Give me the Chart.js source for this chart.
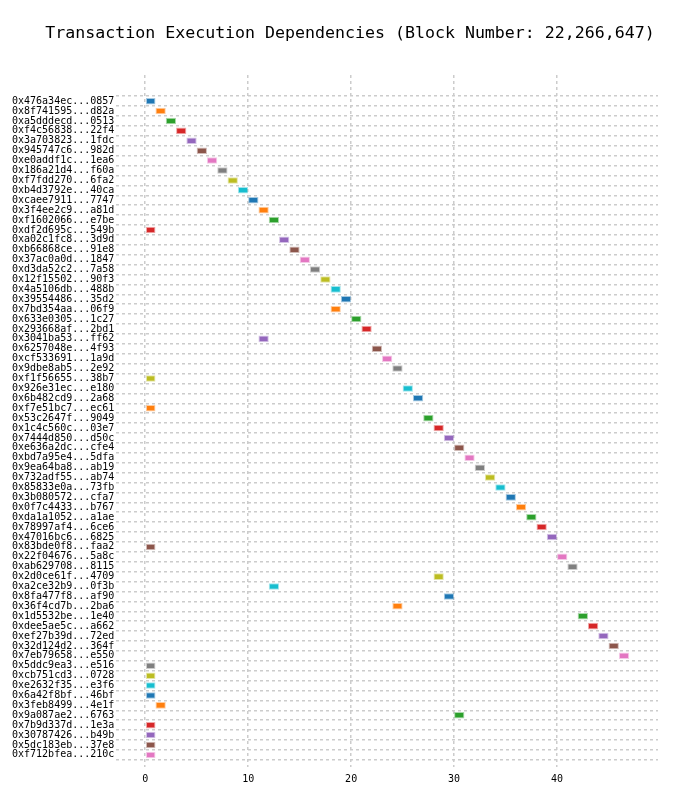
<!DOCTYPE html>
<html>
<head>
<meta charset="utf-8">
<script src="https://cdn.jsdelivr.net/npm/chart.js@4/dist/chart.umd.min.js"></script>
<style>
  html, body { margin: 0; padding: 0; background: #fff; }
  #wrap { width: 700px; height: 804px; position: relative; }
</style>
</head>
<body>
<div id="wrap"><canvas id="c" width="700" height="804"></canvas></div>
<script>
const chartTitle = 'Transaction Execution Dependencies (Block Number: 22,266,647)';
const txLabels = [
  "0x476a34ec...0857","0x8f741595...d82a","0xa5dddecd...0513","0xf4c56838...22f4","0x3a703823...1fdc",
  "0x945747c6...982d","0xe0addf1c...1ea6","0x186a21d4...f60a","0xf7fdd270...6fa2","0xb4d3792e...40ca",
  "0xcaee7911...7747","0x3f4ee2c9...a81d","0xf1602066...e7be","0xdf2d695c...549b","0xa02c1fc8...3d9d",
  "0xb66868ce...91e8","0x37ac0a0d...1847","0xd3da52c2...7a58","0x12f15502...90f3","0x4a5106db...488b",
  "0x39554486...35d2","0x7bd354aa...06f9","0x633e0305...1c27","0x293668af...2bd1","0x3041ba53...ff62",
  "0x6257048e...4f93","0xcf533691...1a9d","0x9dbe8ab5...2e92","0xf1f56655...38b7","0x926e31ec...e180",
  "0x6b482cd9...2a68","0xf7e51bc7...ec61","0x53c2647f...9049","0x1c4c560c...03e7","0x7444d850...d50c",
  "0xe636a2dc...cfe4","0xbd7a95e4...5dfa","0x9ea64ba8...ab19","0x732adf55...ab74","0x85833e0a...73fb",
  "0x3b080572...cfa7","0x0f7c4433...b767","0xda1a1052...a1ae","0x78997af4...6ce6","0x47016bc6...6825",
  "0x83bde0f8...faa2","0x22f04676...5a8c","0xab629708...8115","0x2d0ce61f...4709","0xa2ce32b9...0f3b",
  "0x8fa477f8...af90","0x36f4cd7b...2ba6","0x1d5532be...1e40","0xdee5ae5c...a662","0xef27b39d...72ed",
  "0x32d124d2...364f","0x7eb79658...e550","0x5ddc9ea3...e516","0xcb751cd3...0728","0xe2632f35...e3f6",
  "0x6a42f8bf...46bf","0x3feb8499...4e1f","0x9a087ae2...6763","0x7b9d337d...1e3a","0x30787426...b49b",
  "0x5dc183eb...37e8","0xf712bfea...210c"
];
const startSlots = [
  0,1,2,3,4,5,6,7,8,9,
  10,11,12,0,13,14,15,16,17,18,
  19,18,20,21,11,22,23,24,0,25,
  26,0,27,28,29,30,31,32,33,34,
  35,36,37,38,39,0,40,41,28,12,
  29,24,42,43,44,45,46,0,0,0,
  0,1,30,0,0,0,0
];
const durations = [
  1,1,1,1,1,1,1,1,1,1,
  1,1,1,1,1,1,1,1,1,1,
  1,1,1,1,1,1,1,1,1,1,
  1,1,1,1,1,1,1,1,1,1,
  1,1,1,1,1,1,1,1,1,1,
  1,1,1,1,1,1,1,1,1,1,
  1,1,1,1,1,1,1
];
const xTicks = [0, 10, 20, 30, 40];
const palette = ["#1f77b4","#ff7f0e","#2ca02c","#d62728","#9467bd","#8c564b","#e377c2","#7f7f7f","#bcbd22","#17becf"];

const barData = txLabels.map((_, i) => ({ x: [startSlots[i], startSlots[i] + durations[i]], y: i }));
const barColors = txLabels.map((_, i) => palette[i % palette.length]);

const MONO = "'DejaVu Sans Mono', monospace";

const pageTitle = {
  id: 'pageTitle',
  afterDraw(chart) {
    const ctx = chart.ctx;
    ctx.save();
    ctx.fillStyle = '#000';
    ctx.font = "16.6px 'DejaVu Sans Mono', monospace";
    ctx.textAlign = 'center';
    ctx.textBaseline = 'middle';
    ctx.fillText(chartTitle, chart.width / 2, 34);
    ctx.restore();
  }
};

new Chart(document.getElementById('c'), {
  type: 'bar',
  data: {
    datasets: [{
      data: barData,
      backgroundColor: barColors,
      borderColor: barColors.map(c => c + '66'),
      borderWidth: 1,
      borderSkipped: false,
      categoryPercentage: 1,
      barPercentage: 0.66
    }]
  },
  plugins: [pageTitle],
  options: {
    responsive: false,
    animation: false,
    indexAxis: 'y',
    layout: { padding: { left: 10, right: 42, top: 75, bottom: 13 } },
    plugins: {
      legend: { display: false },
      tooltip: { enabled: false },
      title: { display: false }
    },
    scales: {
      x: {
        type: 'linear',
        min: -2.8,
        max: 49.8,
        afterBuildTicks: s => { s.ticks = xTicks.map(v => ({ value: v })); },
        ticks: { color: '#000', font: { family: MONO, size: 10 }, padding: 6 },
        grid: { color: '#cccccc', lineWidth: 1.5, drawTicks: false },
        border: { display: false, dash: [3, 3] }
      },
      y: {
        type: 'linear',
        reverse: true,
        min: -2.12,
        max: 66.7,
        afterBuildTicks: s => { s.ticks = txLabels.map((_, i) => ({ value: i })); },
        ticks: {
          autoSkip: false,
          color: '#000',
          font: { family: MONO, size: 10 },
          padding: 2,
          callback: v => txLabels[v] || ''
        },
        grid: { color: '#cccccc', lineWidth: 1.5, drawTicks: false },
        border: { display: false, dash: [3, 3] }
      }
    }
  }
});
</script>
</body>
</html>
